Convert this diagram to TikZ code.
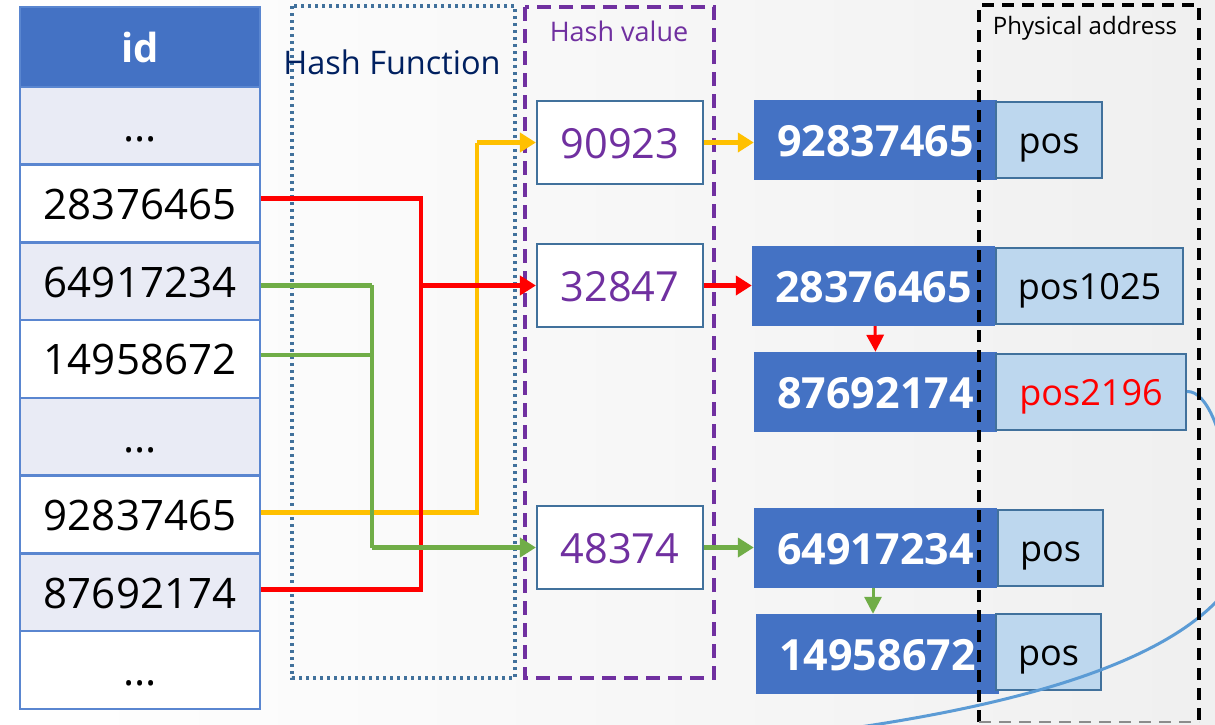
\documentclass[tikz,border=0pt]{standalone}
\usepackage{fontspec}
\setmainfont{Open Sans}
\usetikzlibrary{arrows.meta,calc}

\definecolor{tblue}{HTML}{4472C4}
\definecolor{tborder}{HTML}{5A86D0}
\definecolor{lightrow}{HTML}{E9EBF5}
\definecolor{steel}{HTML}{41719C}
\definecolor{hpurple}{HTML}{7030A0}
\definecolor{posfill}{HTML}{BDD7EE}
\definecolor{navy}{HTML}{002060}
\definecolor{cred}{HTML}{FF0000}
\definecolor{cyellow}{HTML}{FFC000}
\definecolor{cgreen}{HTML}{70AD47}
\definecolor{cblue}{HTML}{5B9BD5}

\newcommand{\fs}[1]{\fontsize{#1}{#1}\selectfont}

\tikzset{
  cell/.style={inner sep=0pt, text height=31.5pt, text depth=0pt, draw=tborder,
    line width=2.5pt, minimum width=240pt, minimum height=77.75pt, font=\fs{42}, text=black},
  hashbox/.style={inner sep=0pt, text height=31pt, text depth=0pt, draw=steel,
    line width=2.2pt, fill=white, minimum width=166pt, minimum height=83pt,
    font=\fs{41.5}, text=hpurple},
  keybox/.style={inner sep=0pt, text height=32pt, text depth=0pt, fill=tblue,
    minimum width=243pt, minimum height=80pt, font=\fs{43}\bfseries, text=white},
  posbox/.style={inner sep=0pt, text height=27pt, text depth=0pt, draw=steel,
    line width=2pt, fill=posfill, minimum height=76pt, font=\fs{36}, text=black},
  link/.style={line width=4.7pt},
  tip/.style={-{Triangle[length=16pt,width=19pt]}},
  smalltip/.style={line width=3pt, -{Triangle[length=17pt,width=17pt]}},
}

\begin{document}
\begin{tikzpicture}[x=1pt, y=-1pt]
% backdrop
\shade[left color=white, right color=black!6] (0,0) rectangle (1215,724);
\useasboundingbox (0,0) rectangle (1215,724);

% hash function and hash value frames
\draw[steel, line width=3.5pt, dash pattern=on 3.2pt off 3.8pt] (292,6) rectangle (515,678);
\draw[hpurple, line width=3.5pt, dash pattern=on 14pt off 8pt] (525,7) rectangle (714,678);
\node[font=\fs{32.5}, text=navy, inner sep=0pt] (hf) at (392,62) {Hash Function};
\node[font=\fs{27}, text=hpurple, inner sep=0pt] (hv) at (619,31) {Hash value};

% id table
\node[cell, fill=tblue, minimum height=80pt, text height=30pt, font=\fs{40}\bfseries, text=white] (r0) at (140,47) {id};
\node[cell, fill=lightrow] (r1) at (140,125.9) {...};
\node[cell, fill=white]    (r2) at (140,203.6) {28376465};
\node[cell, fill=lightrow] (r3) at (140,281.4) {64917234};
\node[cell, fill=white]    (r4) at (140,359.1) {14958672};
\node[cell, fill=lightrow] (r5) at (140,436.9) {...};
\node[cell, fill=white]    (r6) at (140,514.6) {92837465};
\node[cell, fill=lightrow] (r7) at (140,592.4) {87692174};
\node[cell, fill=white]    (r8) at (140,670.1) {...};

% hash values
\node[hashbox] (h1) at (620,142.5) {90923};
\node[hashbox] (h2) at (620,285.5) {32847};
\node[hashbox] (h3) at (620,547.5) {48374};

% routing columns
\coordinate (gx) at (372,0);
\coordinate (rx) at (421,0);
\coordinate (yx) at (477,0);

% id -> hash value connectors
\draw[link, cyellow] ($(r6.east)+(0,-2)$) -- ($(r6.east -| yx)+(0,-2)$) -- (h1.west -| yx);
\draw[link, cyellow, tip] (h1.west -| yx) -- (h1.west);
\draw[link, cred] ($(r2.east)+(0,-5)$) -- ($(r2.east -| rx)+(0,-5)$) -- ($(r7.east -| rx)+(0,-3)$) -- ($(r7.east)+(0,-3)$);
\draw[link, cred, tip] (h2.west -| rx) -- (h2.west);
\draw[link, cgreen] ($(r3.east)+(0,4)$) -- ($(r3.east -| gx)+(0,4)$);
\draw[link, cgreen] ($(r4.east)+(0,-4)$) -- ($(r4.east -| gx)+(0,-4)$);
\draw[link, cgreen] ($(r3.east -| gx)+(0,4)$) -- (h3.west -| gx);
\draw[link, cgreen, tip] (h3.west -| gx) -- (h3.west);

% key chains with physical positions
\node[keybox] (k1) at (875.5,140) {92837465};
\node[posbox, minimum width=106pt] (p1) at (1049,140) {pos};
\node[keybox] (k2) at (873.5,286) {28376465};
\node[posbox, minimum width=187pt] (p2) at (1089.5,285.5) {pos1025};
\node[keybox] (k3) at (875.5,392) {87692174};
\node[posbox, minimum width=190pt, text=cred] (p3) at (1091,391.5) {pos2196};
\node[keybox] (k4) at (875.5,548) {64917234};
\node[posbox, minimum width=105pt] (p4) at (1050.5,548) {pos};
\node[keybox] (k5) at (877.5,654) {14958672};
\node[posbox, minimum width=105pt] (p5) at (1048.5,651.5) {pos};

% hash value -> key arrows
\draw[link, cyellow, tip] (h1.east) -- (k1.west |- h1.east);
\draw[link, cred, tip] (h2.east) -- (k2.west |- h2.east);
\draw[link, cgreen, tip] (h3.east) -- (k4.west |- h3.east);
\draw[smalltip, cred] (k2.south -| 875,0) -- (k3.north);
\draw[smalltip, cgreen] (k4.south -| 873,0) -- (k5.north -| 873,0);

% link leaving pos2196
\draw[cblue, line width=3pt] (p3.east) .. controls (1228,390) and (1250,568) .. (1215,603)
  .. controls (1165,653) and (1060,697) .. (860,727) -- (830,732);

% physical address frame
\draw[black, line width=3.5pt, dash pattern=on 12pt off 8pt] (979,722) -- (979,5) -- (1199,5) -- (1199,722);
\draw[black!45, line width=2.5pt, dash pattern=on 12pt off 8pt] (979,722) -- (1199,722);
\node[font=\fs{24}, inner sep=0pt] (pa) at (1085,28) {Physical address};
\end{tikzpicture}
\end{document}
